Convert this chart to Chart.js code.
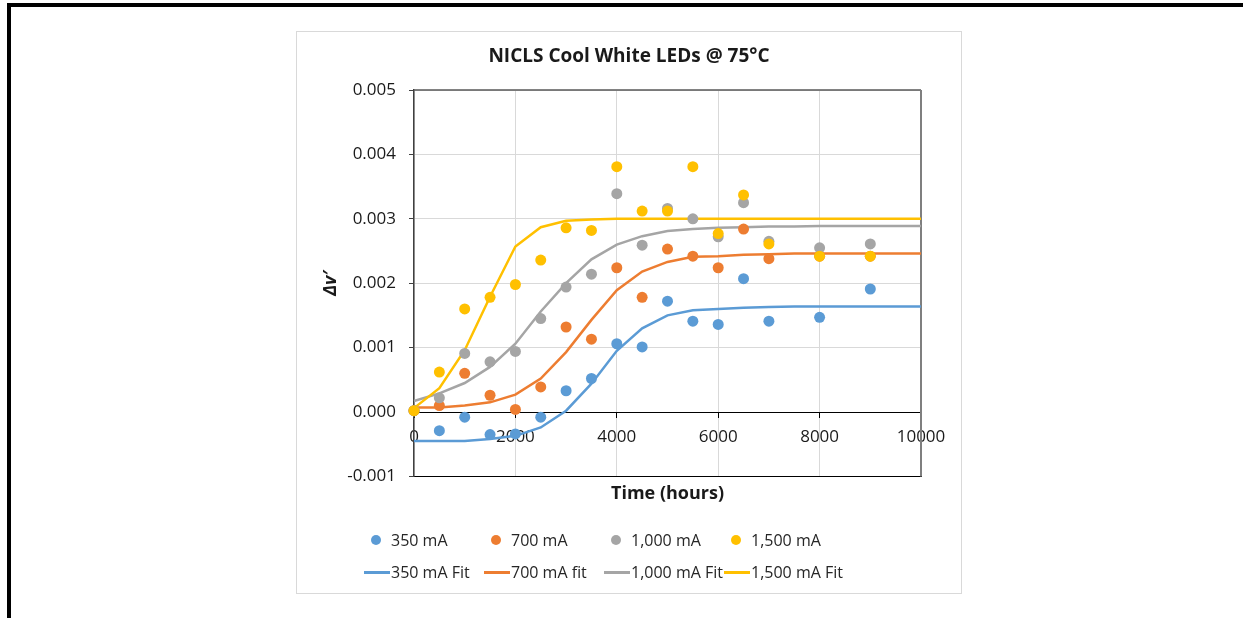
<!DOCTYPE html>
<html>
<head>
<meta charset="utf-8">
<script src="https://cdn.jsdelivr.net/npm/chart.js@4.4.1/dist/chart.umd.min.js"></script>
<style>
  body { margin: 0; background: #fff; width: 1243px; height: 618px; overflow: hidden; position: relative; font-family: "Open Sans", sans-serif; }
  .frame-top { position: absolute; left: 7px; top: 3px; right: 0; height: 4px; background: #000; }
  .frame-left { position: absolute; left: 7px; top: 3px; width: 4px; bottom: 0; background: #000; }
  #box { position: absolute; left: 296px; top: 31px; width: 664px; height: 561px; border: 1px solid #d9d9d9; }
  #chart { position: absolute; left: 0; top: 0; }
  #title { position: absolute; left: 0; top: 10px; width: 664px; text-align: center; font-size: 19px; font-weight: bold; line-height: 26px; color: #1a1a1a; }
  #legend { position: absolute; left: 67px; top: 496px; width: 480px; display: grid; grid-template-columns: repeat(4, 120px); row-gap: 8px; }
  .item { position: relative; height: 24px; font-size: 16px; color: #262626; line-height: 24px; padding-left: 27px; white-space: nowrap; }
  .dot { position: absolute; left: 7px; top: 7px; width: 10px; height: 10px; border-radius: 50%; }
  .bar { position: absolute; left: 0; top: 11px; width: 26px; height: 3px; }
</style>
</head>
<body>
<div class="frame-top"></div>
<div class="frame-left"></div>
<div id="box">
  <canvas id="chart" width="664" height="561"></canvas>
  <div id="title">NICLS Cool White LEDs @ 75°C</div>
  <div id="legend"></div>
</div>
<script>
// measured points (hours, delta u'v')
const hours = [0, 500, 1000, 1500, 2000, 2500, 3000, 3500, 4000, 4500, 5000, 5500, 6000, 6500, 7000, 8000, 9000]
const ma350 = [0.00002, -0.00029, -0.00008, -0.00035, -0.00034, -0.00008, 0.00033, 0.00052, 0.00106, 0.00101, 0.00172, 0.00141, 0.00136, 0.00207, 0.00141, 0.00147, 0.00191]
const ma700 = [0.00002, 0.0001, 0.0006, 0.00026, 0.00004, 0.00039, 0.00132, 0.00113, 0.00224, 0.00178, 0.00253, 0.00242, 0.00224, 0.00284, 0.00238, 0.00242, 0.00242]
const ma1000 = [0.00002, 0.00022, 0.00091, 0.00078, 0.00094, 0.00145, 0.00194, 0.00214, 0.00339, 0.00259, 0.00316, 0.003, 0.00272, 0.00325, 0.00265, 0.00255, 0.00261]
const ma1500 = [0.00002, 0.00062, 0.0016, 0.00178, 0.00198, 0.00236, 0.00286, 0.00282, 0.00381, 0.00312, 0.00312, 0.00381, 0.00277, 0.00337, 0.00261, 0.00242, 0.00242]

// fit curves
const fitHours = [0, 500, 1000, 1500, 2000, 2500, 3000, 3500, 4000, 4500, 5000, 5500, 6000, 6500, 7000, 7500, 8000, 8500, 9000, 9500, 10000]
const fit350 = [-0.00045, -0.00045, -0.00045, -0.00042, -0.00037, -0.00024, 0.00002, 0.00044, 0.00095, 0.0013, 0.0015, 0.00158, 0.0016, 0.00162, 0.00163, 0.00164, 0.00164, 0.00164, 0.00164, 0.00164, 0.00164]
const fit700 = [0.00007, 0.00007, 0.0001, 0.00015, 0.00027, 0.00052, 0.00093, 0.00143, 0.00189, 0.00218, 0.00233, 0.00241, 0.00242, 0.00244, 0.00245, 0.00246, 0.00246, 0.00246, 0.00246, 0.00246, 0.00246]
const fit1000 = [0.00017, 0.00029, 0.00045, 0.0007, 0.00106, 0.00156, 0.002, 0.00237, 0.0026, 0.00273, 0.00281, 0.00284, 0.00286, 0.00287, 0.00288, 0.00288, 0.00289, 0.00289, 0.00289, 0.00289, 0.00289]
const fit1500 = [0.00006, 0.00037, 0.00096, 0.00179, 0.00257, 0.00287, 0.00297, 0.00299, 0.003, 0.003, 0.003, 0.003, 0.003, 0.003, 0.003, 0.003, 0.003, 0.003, 0.003, 0.003, 0.003]

const pointNames = ['350 mA', '700 mA', '1,000 mA', '1,500 mA']
const fitNames = ['350 mA Fit', '700 mA fit', '1,000 mA Fit', '1,500 mA Fit']
const colors = ['#5B9BD5', '#ED7D31', '#A5A5A5', '#FFC000']
const yTicks = [-0.001, 0.000, 0.001, 0.002, 0.003, 0.004, 0.005]
const xTicks = [0, 2000, 4000, 6000, 8000, 10000]

const pairs = (xs, ys) => xs.map((x, i) => ({ x, y: ys[i] }))

const pointSets = [ma350, ma700, ma1000, ma1500].map((ys, i) => ({
  label: pointNames[i],
  data: pairs(hours, ys),
  backgroundColor: colors[i],
  borderWidth: 0,
  pointRadius: 5.5,
  showLine: false,
  clip: false,
  order: 4 - i
}))

const fitSets = [fit350, fit700, fit1000, fit1500].map((ys, i) => ({
  label: fitNames[i],
  data: pairs(fitHours, ys),
  borderColor: colors[i],
  backgroundColor: colors[i],
  borderWidth: 2.5,
  pointRadius: 0,
  showLine: true,
  clip: false,
  order: 8 - i
}))

// top / right edges of the plot area
const plotFrame = {
  id: 'plotFrame',
  beforeDatasetsDraw(chart) {
    const { ctx, chartArea: a } = chart
    ctx.save()
    ctx.strokeStyle = '#595959'
    ctx.lineWidth = 1.5
    ctx.beginPath()
    ctx.moveTo(a.left, a.top)
    ctx.lineTo(a.right, a.top)
    ctx.stroke()
    ctx.strokeStyle = '#7f7f7f'
    ctx.lineWidth = 2
    ctx.beginPath()
    ctx.moveTo(a.right, a.top)
    ctx.lineTo(a.right, a.bottom)
    ctx.stroke()
    ctx.restore()
  }
}

const chart = new Chart(document.getElementById('chart'), {
  type: 'scatter',
  data: { datasets: [...pointSets, ...fitSets] },
  options: {
    responsive: false,
    animation: false,
    layout: { padding: { left: 0, right: 40, top: 58, bottom: 88.8 } },
    plugins: {
      legend: { display: false },
      tooltip: { enabled: false }
    },
    scales: {
      x: {
        type: 'linear',
        position: 'bottom',
        min: 0,
        max: 10000,
        afterBuildTicks: s => { s.ticks = xTicks.map(v => ({ value: v })) },
        ticks: { display: false },
        grid: { color: '#d9d9d9', drawTicks: false },
        border: { display: true, color: '#000', width: 1 },
        title: {
          display: true,
          text: 'Time (hours)',
          color: '#1a1a1a',
          font: { family: 'Open Sans', size: 18, weight: 'bold' },
          padding: 0
        },
        afterFit: s => { s.height = 27.8 }
      },
      xz: {
        type: 'linear',
        axis: 'x',
        position: { y: 0 },
        min: 0,
        max: 10000,
        afterBuildTicks: s => { s.ticks = xTicks.map(v => ({ value: v })) },
        ticks: {
          color: '#1a1a1a',
          font: { family: 'Open Sans', size: 17 },
          padding: 10,
          maxRotation: 0,
          callback: v => String(v)
        },
        grid: { display: true, drawOnChartArea: false, drawTicks: true, tickLength: 5, tickColor: '#000' },
        border: { display: true, color: '#000', width: 1 }
      },
      y: {
        type: 'linear',
        position: 'left',
        min: -0.001,
        max: 0.005,
        afterBuildTicks: s => { s.ticks = yTicks.map(v => ({ value: v })) },
        ticks: {
          color: '#1a1a1a',
          font: { family: 'Open Sans', size: 17 },
          padding: 13,
          callback: v => v.toFixed(3)
        },
        grid: { color: '#d9d9d9', tickLength: 5, tickColor: '#404040' },
        border: { display: true, color: '#404040', width: 1.5 },
        title: {
          display: true,
          text: 'Δv′',
          color: '#1a1a1a',
          font: { family: 'Open Sans', size: 18, weight: 'bold', style: 'italic' },
          padding: { top: 23, bottom: 0 }
        },
        afterFit: s => { s.width = 117 }
      }
    }
  },
  plugins: [plotFrame]
})

// legend: two rows, markers then fit lines
const legendEl = document.getElementById('legend')
const addItem = (ds, isLine) => {
  const item = document.createElement('div')
  item.className = 'item'
  const sym = document.createElement('span')
  sym.className = isLine ? 'bar' : 'dot'
  sym.style.background = isLine ? ds.borderColor : ds.backgroundColor
  item.appendChild(sym)
  item.appendChild(document.createTextNode(ds.label))
  legendEl.appendChild(item)
}
pointSets.forEach(ds => addItem(ds, false))
fitSets.forEach(ds => addItem(ds, true))
</script>
</body>
</html>
